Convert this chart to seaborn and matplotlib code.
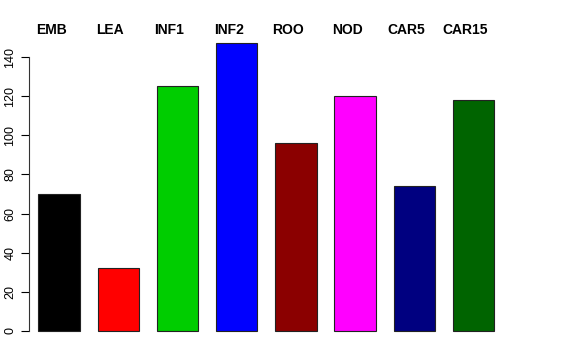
import matplotlib
matplotlib.use("Agg")
import matplotlib.pyplot as plt
import matplotlib.transforms as mtransforms
import seaborn as sns
import pandas as pd

# values
tissues = ["EMB", "LEA", "INF1", "INF2", "ROO", "NOD", "CAR5", "CAR15"]
counts = [70, 32, 125, 147, 96, 120, 74, 118]
bar_colors = ["#000000", "#FF0000", "#00CD00", "#0000FF",
              "#8B0000", "#FF00FF", "#000080", "#006400"]
y_ticks = [0, 20, 40, 60, 80, 100, 120, 140]

df = pd.DataFrame({"tissue": tissues, "count": counts})

sns.set_style("white")
plt.rcParams["font.family"] = ["Liberation Sans", "DejaVu Sans"]
plt.rcParams["text.color"] = "black"
plt.rcParams["ytick.color"] = "black"

W, H = 576, 360
fig = plt.figure(figsize=(W / 100, H / 100), dpi=100)
# plot region in pixels (R style)
left, right, top, bottom = 29, 509, 31.8, 342.5
ax = fig.add_axes([left / W, 1 - bottom / H, (right - left) / W, (bottom - top) / H])

sns.barplot(data=df, x="tissue", y="count", hue="tissue",
            palette=dict(zip(tissues, bar_colors)), legend=False,
            width=0.7, edgecolor="#222222", linewidth=0.8, saturation=1, ax=ax)

ax.set_xlim(-0.507, 7.6)
ax.set_ylim(-5.88, 152.9)
ax.set_xlabel("")
ax.set_ylabel("")
ax.set_xticks([])
ax.set_yticks(y_ticks)
ax.set_yticklabels([str(t) for t in y_ticks], rotation=90, va="center", fontsize=9)
ax.tick_params(axis="y", direction="out", length=6, width=0.8, pad=3, left=True,
               colors="black", labelcolor="black")

for s in ["top", "right", "bottom"]:
    ax.spines[s].set_visible(False)
ax.spines["left"].set_bounds(0, 140)
ax.spines["left"].set_linewidth(0.8)
ax.spines["left"].set_color("#333333")

# bold tissue names across the top
trans = mtransforms.offset_copy(ax.get_xaxis_transform(), fig=fig, x=-8, y=0, units="dots")
for i, name in enumerate(tissues):
    ax.text(i, 0.993, name, transform=trans, ha="center", va="baseline",
            fontsize=10, fontweight="bold", color="black")

fig.savefig("out.png", dpi=100)
